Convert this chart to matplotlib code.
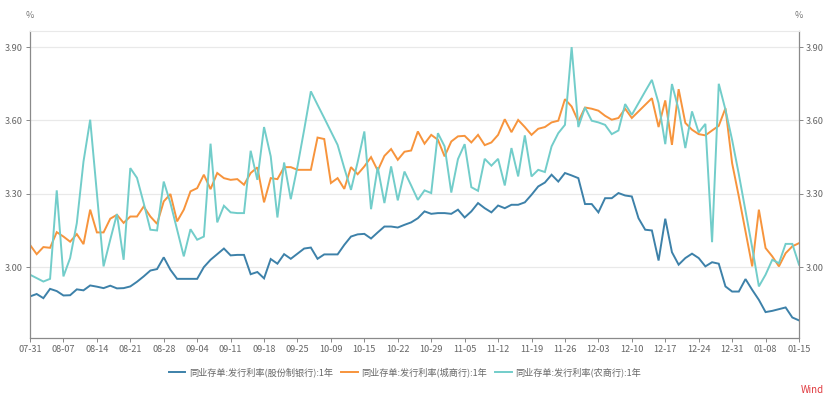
import numpy as np
import matplotlib
matplotlib.use("Agg")
import matplotlib.pyplot as plt

plt.rcParams['font.family'] = ['Noto Sans CJK SC', 'DejaVu Sans']

# x tick labels (one every 5 trading days)
date_labels = ["07-31", "08-07", "08-14", "08-21", "08-28", "09-04", "09-11", "09-18",
               "09-25", "10-09", "10-15", "10-22", "10-29", "11-05", "11-12", "11-19",
               "11-26", "12-03", "12-10", "12-17", "12-24", "12-31", "01-08", "01-15"]

# 同业存单 发行利率 1年, %
joint_stock = [2.880, 2.890, 2.873, 2.911, 2.902, 2.884, 2.885, 2.909, 2.905, 2.925,
               2.920, 2.914, 2.924, 2.913, 2.914, 2.921, 2.940, 2.962, 2.986, 2.992,
               3.040, 2.989, 2.952, 2.952, 2.952, 2.952, 3.000, 3.030, 3.053, 3.076,
               3.048, 3.050, 3.050, 2.971, 2.980, 2.954, 3.033, 3.014, 3.053, 3.034,
               3.055, 3.076, 3.080, 3.034, 3.052, 3.052, 3.052, 3.091, 3.125, 3.134,
               3.136, 3.117, 3.142, 3.166, 3.166, 3.162, 3.173, 3.183, 3.200, 3.228,
               3.218, 3.221, 3.221, 3.218, 3.235, 3.203, 3.228, 3.262, 3.241, 3.224,
               3.252, 3.241, 3.255, 3.255, 3.265, 3.296, 3.330, 3.346, 3.378, 3.350,
               3.385, 3.375, 3.364, 3.258, 3.258, 3.224, 3.282, 3.282, 3.303, 3.293,
               3.289, 3.200, 3.153, 3.150, 3.027, 3.198, 3.061, 3.010, 3.037, 3.055,
               3.037, 3.003, 3.020, 3.014, 2.921, 2.900, 2.900, 2.951, 2.907, 2.866,
               2.816, 2.821, 2.828, 2.835, 2.794, 2.782]

city_bank = [3.091, 3.053, 3.082, 3.079, 3.143, 3.125, 3.104, 3.135, 3.094, 3.235,
             3.142, 3.142, 3.198, 3.214, 3.181, 3.207, 3.207, 3.248, 3.207, 3.177,
             3.269, 3.299, 3.187, 3.235, 3.310, 3.323, 3.378, 3.319, 3.385, 3.364,
             3.357, 3.360, 3.337, 3.385, 3.408, 3.265, 3.364, 3.360, 3.409, 3.409,
             3.398, 3.398, 3.398, 3.530, 3.524, 3.344, 3.364, 3.320, 3.409, 3.380,
             3.412, 3.450, 3.395, 3.455, 3.483, 3.439, 3.472, 3.477, 3.555, 3.505,
             3.541, 3.521, 3.453, 3.514, 3.535, 3.537, 3.510, 3.541, 3.499, 3.510,
             3.541, 3.605, 3.552, 3.602, 3.573, 3.541, 3.566, 3.573, 3.592, 3.599,
             3.687, 3.657, 3.596, 3.653, 3.648, 3.640, 3.619, 3.603, 3.610, 3.648,
             3.610, 3.637, 3.664, 3.691, 3.573, 3.682, 3.500, 3.728, 3.590, 3.562,
             3.544, 3.539, 3.559, 3.578, 3.650, 3.425, 3.289, 3.146, 3.003, 3.235,
             3.078, 3.044, 3.003, 3.057, 3.085, 3.098]

rural_bank = [2.969, 2.955, 2.941, 2.952, 3.314, 2.962, 3.037, 3.180, 3.432, 3.603,
              3.303, 3.003, 3.112, 3.217, 3.030, 3.405, 3.365, 3.262, 3.153, 3.150,
              3.350, 3.262, 3.153, 3.044, 3.155, 3.112, 3.125, 3.505, 3.183, 3.251,
              3.224, 3.221, 3.221, 3.476, 3.357, 3.573, 3.453, 3.203, 3.428, 3.278,
              3.412, 3.562, 3.719, 3.664, 3.610, 3.555, 3.500, 3.405, 3.316, 3.430,
              3.555, 3.237, 3.409, 3.262, 3.412, 3.273, 3.391, 3.334, 3.275, 3.314,
              3.303, 3.548, 3.494, 3.305, 3.442, 3.503, 3.327, 3.312, 3.443, 3.415,
              3.443, 3.334, 3.487, 3.371, 3.539, 3.371, 3.398, 3.389, 3.494, 3.548,
              3.582, 3.900, 3.573, 3.653, 3.599, 3.592, 3.582, 3.544, 3.559, 3.667,
              3.623, 3.671, 3.719, 3.766, 3.671, 3.503, 3.749, 3.644, 3.487, 3.637,
              3.551, 3.586, 3.102, 3.750, 3.644, 3.520, 3.380, 3.230, 3.080, 2.921,
              2.969, 3.030, 3.016, 3.095, 3.095, 3.010]

series_names = ["同业存单:发行利率(股份制银行):1年",
                "同业存单:发行利率(城商行):1年",
                "同业存单:发行利率(农商行):1年"]
colors = ["#3d81a9", "#f7943c", "#72cdca"]
y_ticks = [3.00, 3.30, 3.60, 3.90]


def main():
    fig = plt.figure(figsize=(8.31, 3.97), dpi=100)
    ax = fig.add_axes([30 / 831, 1 - 338 / 397, 769 / 831, 307.5 / 397])

    x = np.arange(len(joint_stock))
    for vals, name, c in zip([joint_stock, city_bank, rural_bank], series_names, colors):
        ax.plot(x, vals, color=c, lw=1.4, label=name, solid_joinstyle="miter")

    ax.set_xlim(0, len(x) - 1)
    ax.set_ylim(2.71, 3.968)
    ax.set_xticks(x[::5])
    ax.set_xticklabels(date_labels)
    ax.set_yticks(y_ticks)
    ax.set_yticklabels([f"{v:.2f}" for v in y_ticks])
    ax.grid(axis="y", color="#e9e9e9", lw=0.9)
    ax.set_axisbelow(True)

    ax.tick_params(axis="both", labelsize=6.6, colors="#888888", length=3, width=0.7,
                   labelcolor="#666666", pad=2)
    ax.tick_params(axis="y", right=True, labelright=True)
    for side in ["left", "right", "bottom"]:
        ax.spines[side].set_color("#8a8a8a")
        ax.spines[side].set_linewidth(0.9)
    ax.spines["top"].set_color("#e9e9e9")

    fig.text(30 / 831, 1 - 16 / 397, "%", fontsize=6.5, color="#777777", ha="center", va="center")
    fig.text(799 / 831, 1 - 16 / 397, "%", fontsize=6.5, color="#777777", ha="center", va="center")

    fig.legend(loc="center", bbox_to_anchor=(405 / 831, 1 - 372 / 397), ncol=3, frameon=False,
               fontsize=6.6, handlelength=1.8, columnspacing=0.9, handletextpad=0.4,
               labelcolor="#666666")

    fig.text(812 / 831, 1 - 390 / 397, "Wind", fontsize=7, color="#e0393e", ha="center", va="center")

    fig.savefig("out.png", dpi=100)
    plt.close(fig)


if __name__ == "__main__":
    main()
